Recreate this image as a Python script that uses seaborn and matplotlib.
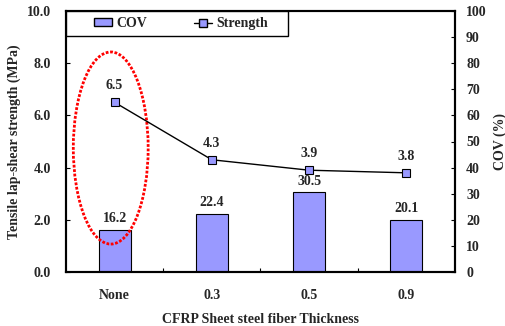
import numpy as np
import pandas as pd
import matplotlib
matplotlib.use("Agg")
import matplotlib.pyplot as plt
import seaborn as sns
from matplotlib.patches import Ellipse, Patch, Rectangle
from matplotlib.lines import Line2D

thickness = ["None", "0.3", "0.5", "0.9"]
strength = [6.5, 4.3, 3.9, 3.8]
cov = [16.2, 22.4, 30.5, 20.1]

df = pd.DataFrame({"Thickness": thickness, "Strength": strength, "COV": cov})

sns.set_theme(style="white")
plt.rcParams['font.family'] = ['Liberation Serif', 'DejaVu Serif']
plt.rcParams['font.weight'] = 'bold'

bar_color = '#9999ff'
fs = 10

fig = plt.figure(figsize=(5.06, 3.26), dpi=100)
ax = fig.add_axes([66 / 506, 1 - 272 / 326, 389 / 506, 261 / 326])

# bars go on the base axes (COV, right scale)
sns.barplot(data=df, x="Thickness", y="COV", order=thickness, color=bar_color,
            edgecolor='black', linewidth=0.8, width=0.33, saturation=1, ax=ax)
ax.set_xlim(-0.5, 3.5)
ax.set_ylim(0, 100)
ax.set_xlabel('CFRP Sheet steel fiber Thickness', fontsize=fs, fontweight='bold', labelpad=8)
ax.set_xticks(range(len(thickness)))
ax.set_xticklabels(thickness, fontsize=fs, fontweight='bold')
ax.set_xticks([0.5, 1.5, 2.5], minor=True)
ax.tick_params(axis='x', which='major', length=0, pad=12)
ax.tick_params(axis='x', which='minor', bottom=True, direction='in', length=3, width=0.8, color='black')
for i, v in enumerate(cov):
    ax.text(i, v + 1.8, f"{v:.1f}", ha='center', va='bottom', fontsize=fs, fontweight='bold')

ax2 = ax.twinx()
sns.lineplot(data=df, x="Thickness", y="Strength", color='black', lw=1,
             marker='s', markersize=5.5, markerfacecolor=bar_color,
             markeredgecolor='black', markeredgewidth=0.8, ax=ax2)
ax2.set_ylim(0, 10)
ax2.set_xlim(-0.5, 3.5)

# swap sides: strength on the left, COV on the right
ax.yaxis.tick_right()
ax.yaxis.set_label_position('right')
ax.set_yticks(np.arange(0, 101, 10))
ax.set_yticklabels([str(t) for t in range(0, 101, 10)], fontsize=fs, fontweight='bold')
ax.tick_params(axis='y', left=False, right=True, direction='in', length=3, width=0.8,
               color='black', pad=8)
ax.set_ylabel('COV (%)', fontsize=fs, fontweight='bold', labelpad=5)

ax2.yaxis.tick_left()
ax2.yaxis.set_label_position('left')
ax2.set_yticks(np.arange(0, 10.1, 2))
ax2.set_yticklabels([f"{t:.1f}" for t in np.arange(0, 10.1, 2)], fontsize=fs, fontweight='bold')
ax2.tick_params(axis='y', left=True, right=False, direction='in', length=3, width=0.8,
                color='black', pad=11)
ax2.set_ylabel('Tensile lap-shear strength (MPa)', fontsize=fs, fontweight='bold', labelpad=4)
for i, v in enumerate(strength):
    ax2.text(i, v + 0.38, f"{v:.1f}", ha='center', va='bottom', fontsize=fs, fontweight='bold')

ell = Ellipse((-0.04, 4.75), 0.77, 7.36, fill=False, edgecolor='red', lw=2, ls=(0, (1, 0.6)))
ax2.add_patch(ell)

for a in (ax, ax2):
    for s in a.spines.values():
        s.set_color('black')
        s.set_linewidth(1.5)

# legend box in the upper left corner
ax2.add_patch(Rectangle((0, 0.904), 0.571, 0.096, transform=ax2.transAxes,
                        facecolor='white', edgecolor='black', lw=1, zorder=4))
handles = [Patch(facecolor=bar_color, edgecolor='black', label='COV'),
           Line2D([0], [0], color='black', lw=1, marker='s', markersize=5.5,
                  markerfacecolor=bar_color, markeredgecolor='black', label='Strength')]
leg = ax2.legend(handles=handles, loc='center left', ncol=2, bbox_to_anchor=(0.072, 0.952),
                 borderaxespad=0, borderpad=0, frameon=False,
                 prop={'size': fs, 'weight': 'bold'}, handlelength=1.3, handleheight=0.5,
                 handletextpad=0.3, columnspacing=3.4)
leg.set_zorder(5)

fig.savefig("out.png", dpi=100)
